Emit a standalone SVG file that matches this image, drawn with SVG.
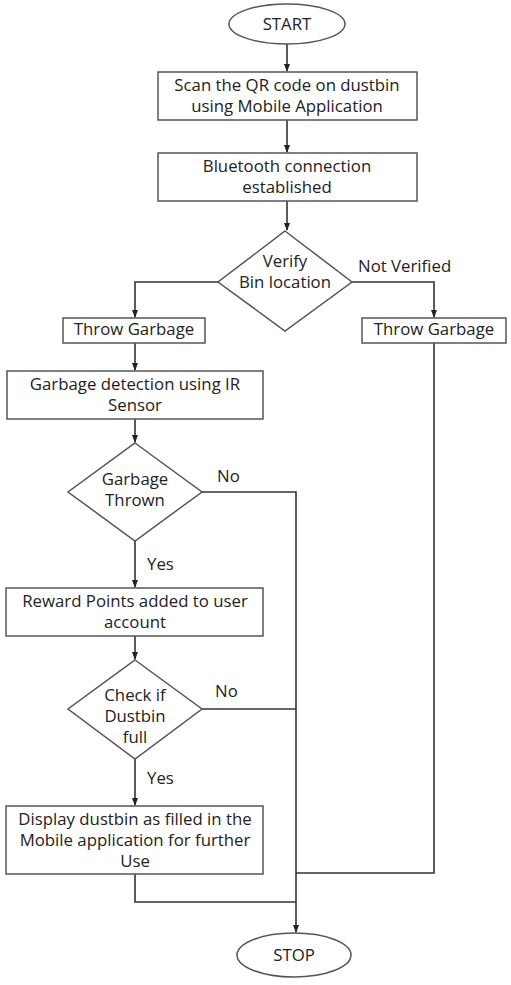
<svg xmlns="http://www.w3.org/2000/svg" width="511" height="985" viewBox="0 0 511 985">
<defs>
<marker id="ah" markerWidth="8" markerHeight="8" refX="7" refY="4" orient="auto" markerUnits="userSpaceOnUse">
<path d="M0,1 L8,4 L0,7 Z" fill="#222"/>
</marker>
<style>
.n{fill:#fff;stroke:#555;stroke-width:1.5}
.c{fill:none;stroke:#333;stroke-width:1.6}
.t{font-family:"Open Sans",Lato,"Liberation Sans",sans-serif;font-size:16.8px;fill:#222;text-anchor:middle}
.l{font-family:"Open Sans",Lato,"Liberation Sans",sans-serif;font-size:16.8px;fill:#222}
</style>
</defs>
<rect width="511" height="985" fill="#fff"/>
<g id="connectors">
<path class="c" d="M287,44 V71" marker-end="url(#ah)"/>
<path class="c" d="M287,120 V152" marker-end="url(#ah)"/>
<path class="c" d="M287,201 V230" marker-end="url(#ah)"/>
<path class="c" d="M218,282 H135 V317" marker-end="url(#ah)"/>
<path class="c" d="M352,282 H434 V317" marker-end="url(#ah)"/>
<path class="c" d="M135,343 V370" marker-end="url(#ah)"/>
<path class="c" d="M135,419 V442" marker-end="url(#ah)"/>
<path class="c" d="M202,492 H296 V873"/>
<path class="c" d="M135,541 V587" marker-end="url(#ah)"/>
<path class="c" d="M135,636 V659" marker-end="url(#ah)"/>
<path class="c" d="M202,709 H296"/>
<path class="c" d="M135,759 V805" marker-end="url(#ah)"/>
<path class="c" d="M135,874 V902 H296"/>
<path class="c" d="M434,343 V873 H296"/>
<path class="c" d="M296,873 V932" stroke-width="2.4" marker-end="url(#ah)"/>
</g>
<g id="start"><ellipse class="n" cx="287" cy="24" rx="58" ry="20"/><text class="t" x="287" y="30">START</text></g>
<g id="scan"><rect class="n" x="158" y="72" width="259" height="48"/><text class="t" x="287" y="91">Scan the QR code on dustbin</text><text class="t" x="287" y="112">using Mobile Application</text></g>
<g id="bluetooth"><rect class="n" x="158" y="153" width="259" height="48"/><text class="t" x="287" y="172">Bluetooth connection</text><text class="t" x="287" y="193">established</text></g>
<g id="verify"><polygon class="n" points="285,231 352,282 285,331 218,282"/><text class="t" x="285" y="267">Verify</text><text class="t" x="285" y="288">Bin location</text></g>
<g id="throw-left"><rect class="n" x="63" y="318" width="142" height="25"/><text class="t" x="134" y="335">Throw Garbage</text></g>
<g id="throw-right"><rect class="n" x="362" y="318" width="144" height="25"/><text class="t" x="434" y="335">Throw Garbage</text></g>
<g id="detect"><rect class="n" x="7" y="371" width="256" height="48"/><text class="t" x="135" y="390">Garbage detection using IR</text><text class="t" x="135" y="411">Sensor</text></g>
<g id="thrown"><polygon class="n" points="135,443 202,492 135,541 68,492"/><text class="t" x="135" y="485">Garbage</text><text class="t" x="135" y="506">Thrown</text></g>
<g id="reward"><rect class="n" x="6" y="588" width="257" height="48"/><text class="t" x="135" y="607">Reward Points added to user</text><text class="t" x="135" y="628">account</text></g>
<g id="full"><polygon class="n" points="135,660 202,709 135,759 68,709"/><text class="t" x="135" y="701">Check if</text><text class="t" x="135" y="722">Dustbin</text><text class="t" x="135" y="743">full</text></g>
<g id="display"><rect class="n" x="6" y="806" width="257" height="68"/><text class="t" x="135" y="825">Display dustbin as filled in the</text><text class="t" x="135" y="846">Mobile application for further</text><text class="t" x="135" y="867">Use</text></g>
<g id="stop"><ellipse class="n" cx="294" cy="955" rx="57" ry="22"/><text class="t" x="294" y="961">STOP</text></g>
<g id="labels">
<text class="l" x="358" y="272">Not Verified</text>
<text class="l" x="217" y="482">No</text>
<text class="l" x="147" y="570">Yes</text>
<text class="l" x="215" y="697">No</text>
<text class="l" x="147" y="784">Yes</text>
</g>
</svg>
